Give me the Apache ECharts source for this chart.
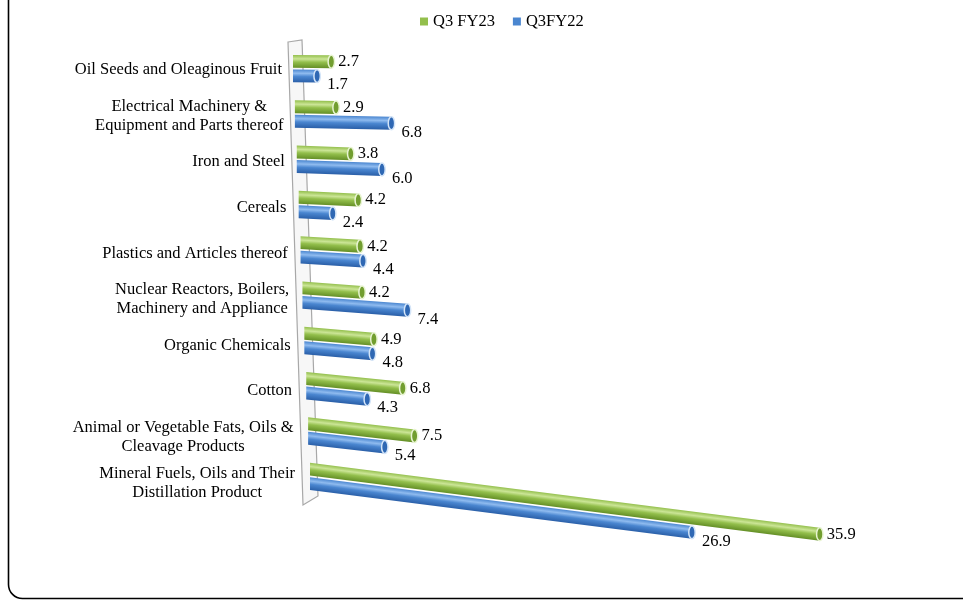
<!DOCTYPE html>
<html><head><meta charset="utf-8">
<script src="https://cdn.jsdelivr.net/npm/echarts/dist/echarts.min.js"></script>
<style>html,body{margin:0;padding:0;background:#fff}#c{width:963px;height:601px}</style>
</head><body><div id="c"></div>
<script>
const categories = [
  "Oil Seeds and Oleaginous Fruit",
  "Electrical Machinery &\nEquipment and Parts thereof",
  "Iron and Steel",
  "Cereals",
  "Plastics and Articles thereof",
  "Nuclear Reactors, Boilers,\nMachinery and Appliance",
  "Organic Chemicals",
  "Cotton",
  "Animal or Vegetable Fats, Oils &\nCleavage Products",
  "Mineral Fuels, Oils and Their\nDistillation Product"
];
const seriesNames = ["Q3 FY23", "Q3FY22"];
const q3fy23 = [2.7, 2.9, 3.8, 4.2, 4.2, 4.2, 4.9, 6.8, 7.5, 35.9];
const q3fy22 = [1.7, 6.8, 6.0, 2.4, 4.4, 7.4, 4.8, 4.3, 5.4, 26.9];

const FONT = '16.5px "Liberation Serif", "Times New Roman", serif';
const palettes = [
  { base: '#93bf4c', light: '#cbe596', dark: '#648f26', cap: '#729e30', rim: '#e8f4d2' },
  { base: '#4a86d0', light: '#8fbbef', dark: '#2a5fa8', cap: '#2f68b4', rim: '#d4e5f8' }
];
const measureCtx = document.createElement('canvas').getContext('2d');
measureCtx.font = FONT;
function textWidth(s) {
  return Math.max.apply(null, s.split('\n').map(l => measureCtx.measureText(l).width));
}

function rowGeom(ci) {
  const n = categories.length - 1;
  return { shift: 17 * ci / n, slope: 0.008 + 0.0133 * ci, labShift: 13 * ci / n, labDy: 1.5 + 5 * ci / n };
}

function makeBarRender(si) {
  const pal = palettes[si];
  const vals = si === 0 ? q3fy23 : q3fy22;
  return function (params, api) {
    const v = api.value(0), ci = api.value(1);
    const base = api.coord([0, ci]);
    const tip = api.coord([v, ci]);
    const band = api.size([0, 1])[1];
    const g = rowGeom(ci);
    const off = (si === 0 ? -1 : 1) * band * 0.16;
    const h = band * 0.285;
    const x0 = base[0] + g.shift, y0 = base[1] + off;
    const x1 = tip[0] + g.shift, y1 = y0 + g.slope * (x1 - x0);
    const len = Math.sqrt(1 + g.slope * g.slope);
    const nx = -g.slope / len, ny = 1 / len;
    const hh = h / 2;
    const grad = new echarts.graphic.LinearGradient(
      x0 - nx * hh, y0 - ny * hh, x0 + nx * hh, y0 + ny * hh,
      [{ offset: 0, color: pal.base }, { offset: 0.3, color: pal.light },
       { offset: 0.55, color: pal.base }, { offset: 1, color: pal.dark }], true);
    const label = vals[params.dataIndex].toFixed(1);
    return {
      type: 'group',
      children: [
        { type: 'polygon', shape: { points: [[x0, y0 - hh], [x1, y1 - hh], [x1, y1 + hh], [x0, y0 + hh]] },
          style: { fill: grad } },
        { type: 'ellipse', shape: { cx: x1, cy: y1, rx: 3.2, ry: hh },
          style: { fill: pal.cap, stroke: pal.rim, lineWidth: 1.5 } },
        { type: 'text', x: x1 + (si === 0 ? 7 : 10), y: y1 + (si === 0 ? 0 : 9),
          style: { text: label, font: FONT, fill: '#000', align: 'left', verticalAlign: 'middle' } }
      ]
    };
  };
}

function labelRender(params, api) {
  const ci = api.value(1);
  const p = api.coord([0, ci]);
  const g = rowGeom(ci);
  const txt = categories[ci];
  const w = textWidth(txt);
  const right = p[0] - 11 + g.labShift;
  return {
    type: 'text', x: right - w / 2, y: p[1] + g.labDy,
    style: { text: txt, font: FONT, fill: '#000', align: 'center', verticalAlign: 'middle', lineHeight: 19 }
  };
}

const chart = echarts.init(document.getElementById('c'));
chart.setOption({
  animation: false,
  backgroundColor: '#fff',
  legend: {
    data: seriesNames, top: 8, left: 415, itemWidth: 8, itemHeight: 8, itemGap: 18,
    icon: 'rect', textStyle: { fontFamily: '"Liberation Serif", serif', fontSize: 16.5, color: '#000' }
  },
  grid: { left: 293, right: 31, top: 46, bottom: 102 },
  xAxis: { type: 'value', min: 0, max: 45, show: false },
  yAxis: { type: 'category', data: categories, inverse: true, show: false },
  graphic: [
    { type: 'rect', z: 0, shape: { x: 8.5, y: -40, width: 1000, height: 638.5, r: 14 },
      style: { fill: 'none', stroke: '#000', lineWidth: 1.6 } },
    { type: 'polygon', z: 0, shape: { points: [[288, 42], [302, 40], [318, 496], [303, 505]] },
      style: { fill: '#f7f7f7', stroke: '#a8a8a8', lineWidth: 1.2 } }
  ],
  series: [
    { name: seriesNames[0], type: 'custom', z: 3, itemStyle: { color: palettes[0].base },
      encode: { x: 0, y: 1 }, data: q3fy23.map((v, i) => [v, i]), renderItem: makeBarRender(0) },
    { name: seriesNames[1], type: 'custom', z: 3, itemStyle: { color: palettes[1].base },
      encode: { x: 0, y: 1 }, data: q3fy22.map((v, i) => [v, i]), renderItem: makeBarRender(1) },
    { name: 'labels', type: 'custom', z: 3, silent: true,
      encode: { x: 0, y: 1 }, data: categories.map((c, i) => [0, i]), renderItem: labelRender }
  ]
});
</script></body></html>
